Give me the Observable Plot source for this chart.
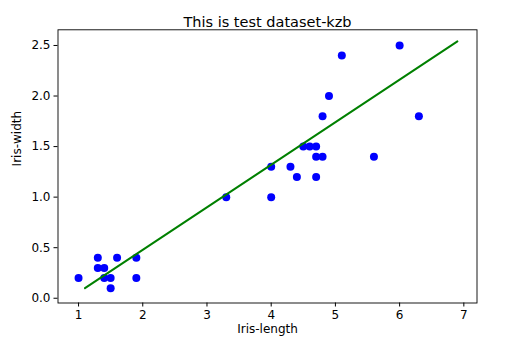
<!DOCTYPE html>
<html>
<head>
<meta charset="utf-8">
<script src="https://cdn.jsdelivr.net/npm/d3@7"></script>
<script src="https://cdn.jsdelivr.net/npm/@observablehq/plot@0.6"></script>
<style>
  html, body { margin: 0; padding: 0; background: #fff; }
  svg { font-family: "DejaVu Sans", sans-serif; }
</style>
</head>
<body>
<div id="chart"></div>
<script>
const title = "This is test dataset-kzb";
const xLabel = "Iris-length";
const yLabel = "Iris-width";

const irisLength = [1.0, 1.3, 1.6, 1.9, 1.3, 1.4, 1.4, 1.5, 1.5, 1.9,
                    3.3,
                    4.0, 4.3, 4.4, 4.7, 4.0, 4.5, 4.6, 4.7, 4.7, 4.8,
                    5.1, 6.0, 4.9, 4.8, 6.3, 5.6];
const irisWidth  = [0.2, 0.4, 0.4, 0.4, 0.3, 0.3, 0.2, 0.2, 0.1, 0.2,
                    1.0,
                    1.3, 1.3, 1.2, 1.2, 1.0, 1.5, 1.5, 1.5, 1.4, 1.4,
                    2.4, 2.5, 2.0, 1.8, 1.8, 1.4];

const fitLength = [1.1, 6.9];
const fitWidth  = [0.10, 2.54];

const xTicks = [1, 2, 3, 4, 5, 6, 7];
const yTicks = [0.0, 0.5, 1.0, 1.5, 2.0, 2.5];

const points = irisLength.map((x, i) => ({x, y: irisWidth[i]}));
const fit = fitLength.map((x, i) => ({x, y: fitWidth[i]}));

const chart = Plot.plot({
  width: 511,
  height: 354,
  marginLeft: 57.5,
  marginRight: 34.5,
  marginTop: 29.3,
  marginBottom: 51.5,
  style: {fontFamily: "DejaVu Sans, sans-serif", fontSize: "12px", color: "#000", background: "#fff"},
  x: {domain: [0.68, 7.205]},
  y: {domain: [-0.047, 2.655]},
  marks: [
    Plot.axisX({ticks: xTicks, tickSize: 4, tickPadding: 3.5, tickFormat: d3.format("d"), label: null, fontSize: 12}),
    Plot.axisY({ticks: yTicks, tickSize: 4, tickPadding: 3.5, tickFormat: d3.format(".1f"), label: null, fontSize: 12}),
    Plot.dot(points, {x: "x", y: "y", r: 4, fill: "#0000ff", stroke: "none"}),
    Plot.line(fit, {x: "x", y: "y", stroke: "#008000", strokeWidth: 2}),
    Plot.frame({stroke: "#000", strokeWidth: 0.9}),
    Plot.text([title], {frameAnchor: "top", dy: -13, fontSize: 14.5, fill: "#000"}),
    Plot.text([xLabel], {frameAnchor: "bottom", dy: 30, fontSize: 12, fill: "#000"}),
    Plot.text([yLabel], {frameAnchor: "left", dx: -40.5, rotate: -90, fontSize: 12, fill: "#000"})
  ]
});
document.getElementById("chart").appendChild(chart);
</script>
</body>
</html>
